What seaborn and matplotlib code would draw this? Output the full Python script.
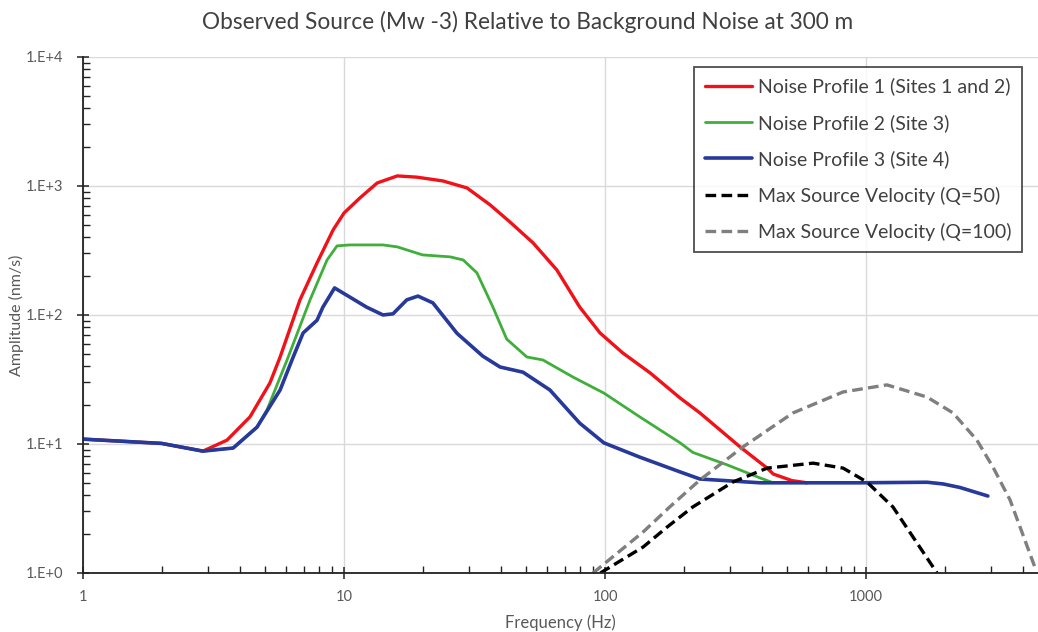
import numpy as np
import pandas as pd
import matplotlib
matplotlib.use("Agg")
import matplotlib.pyplot as plt
import seaborn as sns
from matplotlib.ticker import FixedLocator, FixedFormatter, NullFormatter

# ---------------- data ----------------
title = "Observed Source (Mw -3) Relative to Background Noise at 300 m"
xlabel = "Frequency (Hz)"
ylabel = "Amplitude (nm/s)"

labels = ["Noise Profile 1 (Sites 1 and 2)", "Noise Profile 2 (Site 3)",
          "Noise Profile 3 (Site 4)", "Max Source Velocity (Q=50)",
          "Max Source Velocity (Q=100)"]

np1_f = [1, 2, 2.88, 3.56, 4.36, 5.2, 5.69, 6.78, 7.88, 9.08, 10, 11.5, 13.4, 16, 19,
         23.9, 29.6, 36.3, 43.2, 53, 65.4, 80, 95.7, 117, 149, 194, 231, 329, 418, 441, 520, 594]
np1_a = [10.9, 10.1, 8.8, 10.7, 16.2, 29.7, 47.2, 131, 253, 456, 617, 807, 1055, 1196, 1170,
         1094, 965, 713, 526, 362, 223, 115, 72.5, 50.7, 35.5, 22.7, 17.4, 9.5, 6.5, 5.85, 5.2, 5.0]

np2_f = [1, 2, 2.88, 3.76, 4.64, 5.07, 6.05, 7.41, 8.61, 9.4, 10.5, 14.1, 16, 20, 25.5,
         28.6, 32.3, 37.2, 42, 50.2, 57.8, 75.4, 99, 136, 194, 217, 293, 393, 441]
np2_a = [10.9, 10.1, 8.8, 9.3, 13.5, 18.4, 44.8, 131, 267, 343, 349, 349, 337, 292, 282,
         267, 212, 115, 65, 47.2, 44.8, 33, 24.8, 16.2, 10.2, 8.6, 6.9, 5.45, 5.0]

np3_f = [1, 2, 2.88, 3.76, 4.64, 5.69, 6.38, 6.97, 7.88, 8.3, 9.2, 10.5, 12.2, 14.1, 15.4,
         17.4, 19.2, 21.9, 27.1, 34, 39.6, 48.5, 61.5, 80, 99, 136, 194, 231, 393, 948,
         1713, 1973, 2290, 2930]
np3_a = [10.9, 10.1, 8.8, 9.3, 13.5, 26.2, 47, 72.5, 91, 115, 162, 138, 115, 100, 102,
         131, 140, 124, 72, 48, 39.5, 36, 26.2, 14.5, 10.2, 7.9, 6.07, 5.35, 5.0, 5.0,
         5.05, 4.9, 4.6, 3.95]

q50_f = [96, 140, 173, 217, 309, 418, 627, 817, 1008, 1268, 1514, 1871]
q50_a = [1.0, 1.59, 2.27, 3.25, 5.07, 6.5, 7.1, 6.5, 5.07, 3.25, 1.9, 1.0]

q100_f = [90, 140, 177, 231, 338, 525, 817, 1203, 1713, 2155, 2661, 3067, 3564, 4443]
q100_a = [1.0, 2.08, 3.25, 5.26, 9.5, 17.4, 25.3, 28.7, 23.1, 17.4, 10.7, 6.6, 3.68, 1.1]

xticks = [1, 10, 100, 1000]
xticklabels = ["1", "10", "100", "1000"]
yticks = [1, 10, 100, 1000, 10000]
yticklabels = ["1.E+0", "1.E+1", "1.E+2", "1.E+3", "1.E+4"]

# ---------------- styling ----------------
sns.set_theme(style="white")
plt.rcParams["font.family"] = ["Lato", "DejaVu Sans"]

colors = ["#f01218", "#3fae3a", "#27399a", "#000000", "#7f7f7f"]
styles = ["-", "-", "-", "--", "--"]
widths = [2.4, 2.0, 2.6, 2.4, 2.4]

series = [(np1_f, np1_a), (np2_f, np2_a), (np3_f, np3_a), (q50_f, q50_a), (q100_f, q100_a)]

fig = plt.figure(figsize=(10.38, 6.32), dpi=100)
ax = fig.add_axes([0.080, 0.0934, 0.920, 0.8165])

for (f, a), lab, c, ls, lw in zip(series, labels, colors, styles, widths):
    df = pd.DataFrame({"f": f, "a": a})
    sns.lineplot(data=df, x="f", y="a", ax=ax, color=c, linewidth=lw,
                 label=lab, sort=False, estimator=None)
    line = ax.get_lines()[-1]
    line.set_solid_joinstyle("round")
    line.set_solid_capstyle("round")
    if ls == "--":
        line.set_linestyle("--")
        line.set_dashes([3.2, 1.6])

ax.set_xscale("log")
ax.set_yscale("log")
ax.set_xlim(1, 10 ** 3.659)
ax.set_ylim(1, 10000)

ax.xaxis.set_major_locator(FixedLocator(xticks))
ax.xaxis.set_major_formatter(FixedFormatter(xticklabels))
ax.yaxis.set_major_locator(FixedLocator(yticks))
ax.yaxis.set_major_formatter(FixedFormatter(yticklabels))
xminor = [m * 10 ** d for d in range(0, 4) for m in range(2, 10)]
yminor = [m * 10 ** d for d in range(0, 4) for m in range(2, 10)]
ax.xaxis.set_minor_locator(FixedLocator(xminor))
ax.yaxis.set_minor_locator(FixedLocator(yminor))
ax.xaxis.set_minor_formatter(NullFormatter())
ax.yaxis.set_minor_formatter(NullFormatter())

ax.grid(True, which="major", color="#d9d9d9", linewidth=1.0)
ax.set_axisbelow(True)
for s in ["top", "right"]:
    ax.spines[s].set_visible(False)
for s in ["left", "bottom"]:
    ax.spines[s].set_color("#222222")
    ax.spines[s].set_linewidth(1.3)

ax.tick_params(axis="both", which="both", bottom=True, left=True, top=False, right=False)
ax.tick_params(axis="both", which="major", direction="inout", length=8, width=1.1,
               color="#222222", labelcolor="#595959")
ax.tick_params(axis="both", which="minor", direction="in", length=5, width=1.0,
               color="#222222")
ax.tick_params(axis="x", which="major", pad=8, labelsize=10.5)
ax.tick_params(axis="y", which="major", pad=10, labelsize=10.5)

ax.set_xlabel(xlabel, fontsize=12, color="#595959", labelpad=8)
ax.set_ylabel(ylabel, fontsize=11.5, color="#595959")
ax.yaxis.set_label_coords(-0.062, 0.5)
fig.suptitle(title, x=0.508, y=0.982, fontsize=16.3, color="#404040", va="top")

leg = ax.legend(loc="upper right", bbox_to_anchor=(0.983, 0.981), borderaxespad=0,
                fontsize=14, frameon=True, fancybox=False, handlelength=2.4,
                handletextpad=0.3, labelspacing=0.95, borderpad=0.55)
leg.get_frame().set_edgecolor("#222222")
leg.get_frame().set_linewidth(1.3)
for t in leg.get_texts():
    t.set_color("#404040")

fig.savefig("out.png", dpi=100)
